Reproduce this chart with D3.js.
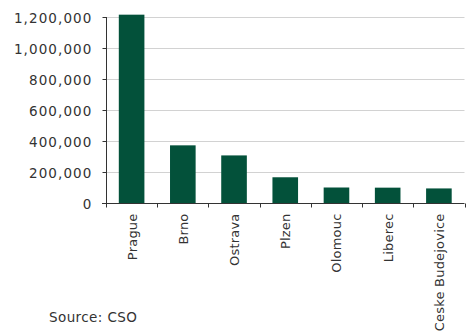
<!DOCTYPE html>
<html>
<head>
<meta charset="utf-8">
<script src="https://cdn.jsdelivr.net/npm/d3@7"></script>
<style>
  html, body { margin: 0; padding: 0; background: #fff; }
  svg text { font-family: "DejaVu Sans", sans-serif; fill: #333; }
</style>
</head>
<body>
<svg id="chart" width="471" height="333"></svg>
<script>
// Population of the largest Czech cities
const cities = ["Prague", "Brno", "Ostrava", "Plzen", "Olomouc", "Liberec", "Ceske Budejovice"];
const population = [1215000, 372000, 307000, 166000, 100000, 99000, 94000];
const yTicks = [0, 200000, 400000, 600000, 800000, 1000000, 1200000];
const sourceNote = "Source: CSO";

const W = 471, H = 333;
const margin = { top: 17, right: 6.5, bottom: 130, left: 106 };
const svg = d3.select("#chart");
const g = svg.append("g").attr("transform", `translate(${margin.left},${margin.top})`);
const iw = W - margin.left - margin.right;
const ih = H - margin.top - margin.bottom;

const x = d3.scaleBand().domain(cities).range([0, iw]).paddingInner(0.5).paddingOuter(0.25);
const y = d3.scaleLinear().domain([0, 1200000]).range([ih, 0]);
const step = x.step();

// horizontal gridlines
g.append("g").selectAll("line").data(yTicks.filter(d => d > 0)).join("line")
  .attr("x1", 0).attr("x2", iw)
  .attr("y1", d => Math.round(y(d)) + 0.5).attr("y2", d => Math.round(y(d)) + 0.5)
  .attr("stroke", "#d2d2d2").attr("stroke-width", 1);

// bars
g.append("g").selectAll("rect").data(cities).join("rect")
  .attr("x", d => x(d))
  .attr("width", x.bandwidth())
  .attr("y", (d, i) => y(population[i]))
  .attr("height", (d, i) => ih - y(population[i]))
  .attr("fill", "#03513a");

// y axis
const yAxis = d3.axisLeft(y).tickValues(yTicks).tickSize(4).tickPadding(10)
  .tickFormat(d3.format(","));
const ya = g.append("g").attr("transform", "translate(0.5,0)").call(yAxis);
ya.select(".domain").attr("stroke", "#333").attr("d", `M0,${ih}V0`);
ya.selectAll(".tick line").attr("stroke", "#333");
ya.selectAll("text").attr("font-size", 13.5).attr("letter-spacing", 1.1)
  .style("fill", "#333").attr("dy", "0.4em");

// x axis: baseline with ticks at category boundaries
const xa = g.append("g").attr("transform", `translate(0,${Math.round(ih) + 0.5})`);
xa.append("line").attr("x1", -4).attr("x2", iw).attr("stroke", "#333");
const bounds = cities.map(c => x(c) - step * 0.25).concat([iw]);
xa.selectAll("line.tk").data(bounds).join("line").attr("class", "tk")
  .attr("x1", d => Math.round(d) + 0.5).attr("x2", d => Math.round(d) + 0.5)
  .attr("y1", 0).attr("y2", 4).attr("stroke", "#333");
xa.selectAll("text").data(cities).join("text")
  .attr("transform", d => `translate(${x(d) + x.bandwidth() / 2 + 5},10) rotate(-90)`)
  .attr("text-anchor", "end")
  .attr("font-size", 13)
  .attr("letter-spacing", 0.2)
  .text(d => d);

// source note
svg.append("text").attr("x", 49).attr("y", 322).attr("font-size", 13.5)
  .attr("letter-spacing", 0.4).text(sourceNote);
</script>
</body>
</html>
